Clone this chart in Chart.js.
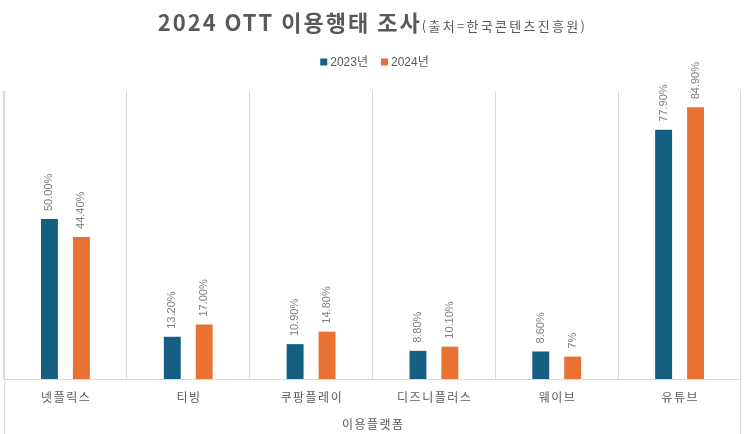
<!DOCTYPE html>
<html><head><meta charset="utf-8">
<script src="https://cdn.jsdelivr.net/npm/chart.js@4"></script>
<style>html,body{margin:0;padding:0;background:#fff}#wrap{width:745px;height:434px;position:relative}</style>
</head><body><div id="wrap"><canvas id="c"></canvas></div>
<script>
const categories = ['넷플릭스','티빙','쿠팡플레이','디즈니플러스','웨이브','유튜브'];
const values2023 = [50.0, 13.2, 10.9, 8.8, 8.6, 77.9];
const values2024 = [44.4, 17.0, 14.8, 10.1, 7.0, 84.9];
const labels2023 = ['50.00%','13.20%','10.90%','8.80%','8.60%','77.90%'];
const labels2024 = ['44.40%','17.00%','14.80%','10.10%','7%','84.90%'];
const seriesNames = ['2023년','2024년'];
const seriesColors = ['#156082','#E97132'];
const titleMain = '2024 OTT 이용행태 조사';
const titleSource = '(출처=한국콘텐츠진흥원)';
const axisTitle = '이용플랫폼';
const yMax = 90;

const LATIN_KR = '"Liberation Sans", "Noto Sans CJK KR", sans-serif';
const KR = '"Noto Sans CJK KR", "Liberation Sans", sans-serif';

const decorPlugin = {
  id: 'decor',
  afterDraw(chart) {
    const ctx = chart.ctx;
    const ca = chart.chartArea;
    const W = chart.width, H = chart.height;
    const cx = W / 2;
    ctx.save();
    // outer frame lines (left/right) extending down
    ctx.strokeStyle = '#d9d9d9';
    ctx.lineWidth = 1;
    ctx.beginPath();
    ctx.moveTo(Math.round(ca.left) + 0.5, ca.top);
    ctx.lineTo(Math.round(ca.left) + 0.5, H);
    ctx.moveTo(Math.round(ca.right) - 0.5, ca.top);
    ctx.lineTo(Math.round(ca.right) - 0.5, H);
    ctx.stroke();

    // title
    ctx.textBaseline = 'alphabetic';
    ctx.textAlign = 'left';
    ctx.fillStyle = '#595959';
    const mainFont = 'bold 22px ' + KR, mainSp = '2px';
    const srcFont = '13px ' + KR, srcSp = '2.3px';
    ctx.font = mainFont; ctx.letterSpacing = mainSp;
    const w1 = ctx.measureText(titleMain).width;
    ctx.font = srcFont; ctx.letterSpacing = srcSp;
    const w2 = ctx.measureText(titleSource).width;
    let tx = cx - (w1 + w2) / 2;
    ctx.font = mainFont; ctx.letterSpacing = mainSp;
    ctx.fillText(titleMain, tx, 31);
    ctx.font = srcFont; ctx.letterSpacing = srcSp;
    ctx.fillText(titleSource, tx + w1, 31);

    // legend
    ctx.letterSpacing = '0px';
    ctx.font = '12px ' + LATIN_KR;
    const box = 7, gapBT = 3, gapItems = 13;
    const widths = seriesNames.map(s => ctx.measureText(s).width);
    let total = 0;
    widths.forEach((w, i) => { total += box + gapBT + w + (i < widths.length - 1 ? gapItems : 0); });
    let lx = cx - total / 2 + 2;
    const ly = 62;
    ctx.textBaseline = 'middle';
    seriesNames.forEach((s, i) => {
      ctx.fillStyle = chart.data.datasets[i].backgroundColor;
      ctx.fillRect(lx, ly - box / 2, box, box);
      ctx.fillStyle = '#595959';
      ctx.fillText(s, lx + box + gapBT, ly + 1);
      lx += box + gapBT + widths[i] + gapItems;
    });

    // x tick labels
    const xs = chart.scales.x;
    ctx.font = '12px ' + KR;
    ctx.letterSpacing = '1.5px';
    ctx.fillStyle = '#595959';
    ctx.textAlign = 'left';
    ctx.textBaseline = 'middle';
    chart.data.labels.forEach((lab, i) => {
      const px = xs.getPixelForTick(i);
      const w = ctx.measureText(lab).width - 1.5;
      ctx.fillText(lab, px - w / 2, ca.bottom + 18);
    });
    // axis title
    const wt = ctx.measureText(axisTitle).width - 1.5;
    ctx.fillText(axisTitle, (ca.left + ca.right) / 2 - wt / 2, ca.bottom + 45);

    // data labels
    ctx.letterSpacing = '0px';
    ctx.font = '11px ' + LATIN_KR;
    ctx.fillStyle = '#7f7f7f';
    const lbls = [labels2023, labels2024];
    chart.data.datasets.forEach((ds, di) => {
      const meta = chart.getDatasetMeta(di);
      meta.data.forEach((bar, i) => {
        ctx.save();
        ctx.translate(bar.x, bar.y - 8);
        ctx.rotate(-Math.PI / 2);
        ctx.textAlign = 'left';
        ctx.textBaseline = 'middle';
        ctx.fillText(lbls[di][i], 0, 0);
        ctx.restore();
      });
    });
    ctx.restore();
  }
};

new Chart(document.getElementById('c'), {
  type: 'bar',
  data: {
    labels: categories,
    datasets: [
      { label: seriesNames[0], data: values2023, backgroundColor: seriesColors[0], borderWidth: 0 },
      { label: seriesNames[1], data: values2024, backgroundColor: seriesColors[1], borderWidth: 0 }
    ]
  },
  options: {
    responsive: true,
    maintainAspectRatio: false,
    animation: false,
    categoryPercentage: 0.52,
    barPercentage: 0.53,
    layout: { padding: { top: 91, bottom: 55, left: 4, right: 4 } },
    plugins: {
      legend: { display: false },
      title: { display: false },
      tooltip: { enabled: false }
    },
    scales: {
      x: {
        grid: { display: true, offset: true, color: '#d9d9d9', drawTicks: false, lineWidth: 1 },
        border: { display: true, color: '#d9d9d9' },
        ticks: { display: false }
      },
      y: {
        display: false,
        min: 0,
        max: yMax
      }
    }
  },
  plugins: [decorPlugin]
});
</script>
</body></html>
